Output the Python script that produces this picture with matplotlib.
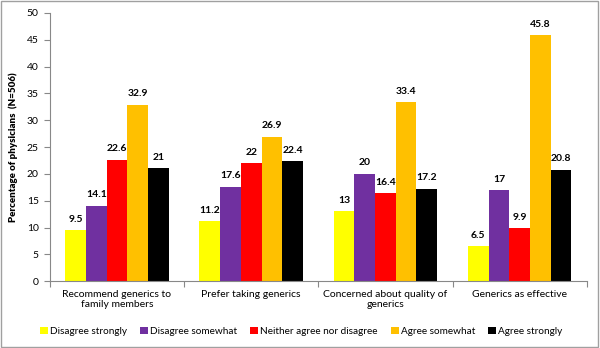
import matplotlib
matplotlib.use("Agg")
import matplotlib.pyplot as plt
import numpy as np

categories = ["Recommend generics to\nfamily members", "Prefer taking generics",
              "Concerned about quality of\ngenerics", "Generics as effective"]
series = ["Disagree strongly", "Disagree somewhat", "Neither agree nor disagree",
          "Agree somewhat", "Agree strongly"]
values = [
    [9.5, 11.2, 13, 6.5],
    [14.1, 17.6, 20, 17],
    [22.6, 22, 16.4, 9.9],
    [32.9, 26.9, 33.4, 45.8],
    [21, 22.4, 17.2, 20.8],
]
labels = [
    ["9.5", "11.2", "13", "6.5"],
    ["14.1", "17.6", "20", "17"],
    ["22.6", "22", "16.4", "9.9"],
    ["32.9", "26.9", "33.4", "45.8"],
    ["21", "22.4", "17.2", "20.8"],
]
colors = ["#FFFF00", "#7030A0", "#FF0000", "#FFC000", "#000000"]

plt.rcParams['font.family'] = ['Lato', 'DejaVu Sans']

fig = plt.figure(figsize=(6, 3.48), dpi=100)
ax = fig.add_axes([0.083, 0.192, 0.895, 0.771])

x = np.arange(len(categories))
w = 0.154
for i, s in enumerate(series):
    pos = x + (i - 2) * w
    bars = ax.bar(pos, values[i], width=w, color=colors[i], label=s)
    for b, t in zip(bars, labels[i]):
        ax.text(b.get_x() + b.get_width() / 2, b.get_height() + 1.2, t,
                ha='center', va='bottom', fontsize=7.5, fontweight='bold')

ax.set_xlim(-0.5, len(categories) - 0.5)
ax.set_ylim(0, 50)
ax.set_yticks(range(0, 51, 5))
ax.set_xticks(np.arange(-0.5, len(categories)), minor=False)
ax.set_xticklabels([])
ax.set_xticks(x, minor=True)
ax.set_xticklabels(categories, minor=True, fontsize=7.5)
ax.tick_params(axis='x', which='minor', length=0, pad=6)
ax.tick_params(axis='x', which='major', length=4, direction='out', color='#888888')
ax.tick_params(axis='y', length=4, direction='out', color='#888888', labelsize=7.5, pad=4)
for sp in ['top', 'right']:
    ax.spines[sp].set_visible(False)
for sp in ['left', 'bottom']:
    ax.spines[sp].set_color('#888888')
ax.set_ylabel("Percentage of physicians  (N=506)", fontsize=7, fontweight='heavy', labelpad=6)

fig.legend(loc='center', bbox_to_anchor=(0.502, 0.048), ncol=5, frameon=False,
           fontsize=7.2, handlelength=0.8, handleheight=0.8, handletextpad=0.2,
           columnspacing=1.3, borderaxespad=0)

fig.patches.append(plt.Rectangle((0.002, 0.003), 0.995, 0.993, transform=fig.transFigure,
                                 fill=False, edgecolor='#A0A0A0', linewidth=1))

fig.savefig("out.png", dpi=100)
